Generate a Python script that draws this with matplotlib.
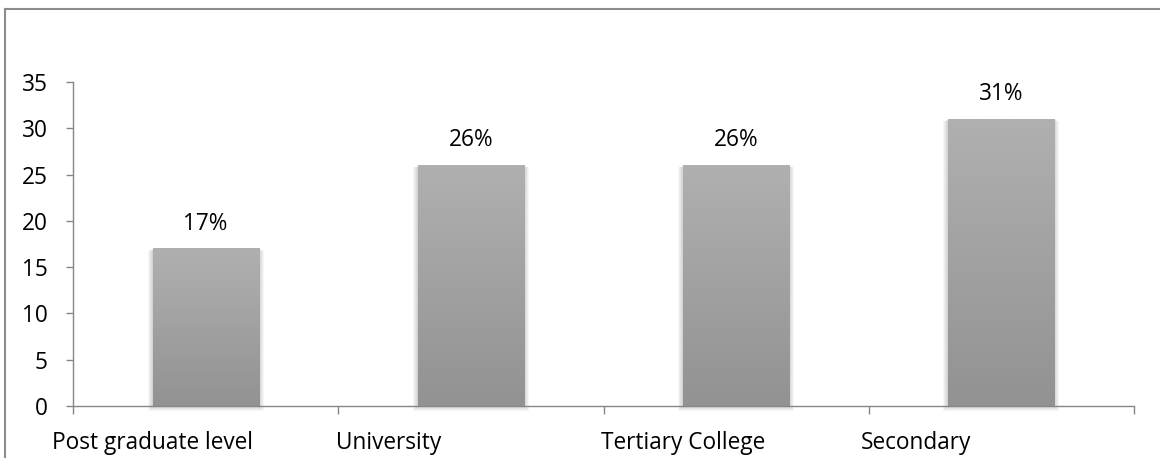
import numpy as np
import matplotlib
matplotlib.use("Agg")
import matplotlib.pyplot as plt
from matplotlib.patches import Rectangle
from matplotlib.lines import Line2D

# data
categories = ["Post graduate level", "University", "Tertiary College", "Secondary"]
values = [17, 26, 26, 31]
value_labels = ["17%", "26%", "26%", "31%"]
y_ticks = [0, 5, 10, 15, 20, 25, 30, 35]

plt.rcParams["font.family"] = ["Open Sans", "DejaVu Sans"]
FS = 16.3

fig = plt.figure(figsize=(11.6, 4.58), dpi=100)
ax = fig.add_axes([73 / 1160, 52 / 458, (1134 - 73) / 1160, (406 - 82) / 458])

x = np.arange(len(categories))
bars = ax.bar(x, values, width=0.40, color="none", edgecolor="none", zorder=3)

ax.set_xlim(-0.5, len(categories) - 0.5)
ax.set_ylim(0, 35)

# gradient fill + soft shadow for each bar
grad = np.linspace(0, 1, 256).reshape(-1, 1)
cmap = matplotlib.colors.LinearSegmentedColormap.from_list("g", ["#929292", "#b0b0b0"])
px_x = (len(categories)) / (1134 - 73)
px_y = 35 / (406 - 82)
for b, lab in zip(bars, value_labels):
    x0, w, h = b.get_x(), b.get_width(), b.get_height()
    for k in range(1, 6):
        sh = Rectangle((x0 - k * px_x, -k * px_y), w + 2 * k * px_x, h + k * px_y * 0.6,
                       facecolor="black", edgecolor="none", alpha=0.035, zorder=2,
                       clip_on=False)
        ax.add_patch(sh)
    ax.imshow(grad, extent=(x0, x0 + w, 0, h), origin="lower", cmap=cmap,
              aspect="auto", zorder=3, clip_path=b, clip_on=True)
    ax.text(x0 + w / 2, h + 19 * px_y, lab,
            ha="center", va="baseline", fontsize=FS, color="black", zorder=4)
ax.set_xlim(-0.5, len(categories) - 0.5)
ax.set_ylim(0, 35)

# axes styling
for s in ["top", "right"]:
    ax.spines[s].set_visible(False)
for s in ["left", "bottom"]:
    ax.spines[s].set_color("#868686")
    ax.spines[s].set_linewidth(1)
ax.spines["bottom"].set_zorder(5)

ax.set_yticks(y_ticks)
ax.tick_params(axis="y", direction="out", length=5, width=1, color="#868686",
               labelsize=FS, pad=13)
ax.set_xticks(np.arange(len(categories) + 1) - 0.5)
ax.set_xticklabels([])
ax.tick_params(axis="x", direction="out", length=5.5, width=1, color="#868686")

# category labels, Excel-style offset
label_shift = [-0.08, -0.01, -0.01, -0.03]
for i, (c, sft) in enumerate(zip(categories, label_shift)):
    ax.text(i - 0.5 + sft, -4.6, c, ha="left", va="baseline", fontsize=FS,
            color="black", clip_on=False)

# outer chart frame
fig.add_artist(Line2D([4.5 / 1160, 4.5 / 1160], [0, 1 - 9.3 / 458], color="#8c8c8c", lw=1.5))
fig.add_artist(Line2D([4.5 / 1160, 1], [1 - 9.3 / 458, 1 - 9.3 / 458], color="#8c8c8c", lw=1.5))

fig.savefig("out.png", dpi=100)
